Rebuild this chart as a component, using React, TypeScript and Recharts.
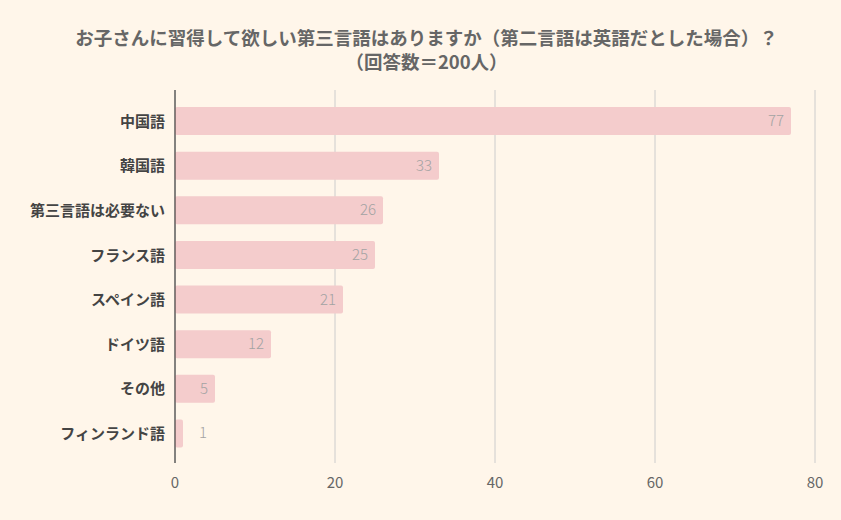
import React from 'react';
import { BarChart, Bar, XAxis, YAxis, CartesianGrid, LabelList } from 'recharts';

const languages = [
  '中国語',
  '韓国語',
  '第三言語は必要ない',
  'フランス語',
  'スペイン語',
  'ドイツ語',
  'その他',
  'フィンランド語',
];
const answers = [77, 33, 26, 25, 21, 12, 5, 1];
const xTicks = [0, 20, 40, 60, 80];
const titleLines = [
  'お子さんに習得して欲しい第三言語はありますか（第二言語は英語だとした場合）？',
  '（回答数＝200人）',
];

const data = languages.map((name, i) => ({ name, value: answers[i] }));

const FONT = '"Noto Sans CJK JP", "Noto Sans", sans-serif';

const renderLabel = (props: any) => {
  const { x, y, width, height, value } = props;
  const inside = width > 20;
  const lx = inside ? x + width - 7 : x + width + 20;
  return (
    <text
      x={lx}
      y={y + height / 2}
      dy={5}
      textAnchor={inside ? 'end' : 'middle'}
      fill="#a3a3a3"
      fontSize={15}
      fontWeight={300}
      fontFamily={FONT}
    >
      {value}
    </text>
  );
};

export default function App() {
  return (
    <div
      style={{
        position: 'fixed',
        left: 0,
        top: 0,
        width: 841,
        height: 520,
        background: '#fff6ea',
        fontFamily: FONT,
      }}
    >
      {titleLines.map((line, i) => (
        <div
          key={i}
          style={{
            position: 'absolute',
            top: 26 + i * 24,
            left: 6,
            width: 841,
            height: 22,
            textAlign: 'center',
            color: '#666666',
            fontWeight: 700,
            fontSize: 18.5,
            lineHeight: '22px',
            whiteSpace: 'nowrap',
          }}
        >
          {line}
        </div>
      ))}
      <BarChart
        width={841}
        height={520}
        data={data}
        layout="vertical"
        margin={{ top: 90, right: 26, left: 0, bottom: 27 }}
      >
        <CartesianGrid horizontal={false} stroke="#cccccc" />
        <XAxis
          type="number"
          domain={[0, 80]}
          ticks={xTicks}
          axisLine={false}
          tickLine={false}
          tickMargin={8}
          height={30}
          tick={{ fill: '#666666', fontSize: 15, fontFamily: FONT }}
        />
        <YAxis
          type="category"
          dataKey="name"
          width={175}
          padding={{ top: 9, bottom: 7 }}
          axisLine={{ stroke: '#222222' }}
          tickLine={false}
          tickMargin={4}
          tick={{ fill: '#444444', fontSize: 15, fontWeight: 700, fontFamily: FONT }}
        />
        <Bar dataKey="value" fill="#f4cccc" barSize={28} radius={2} isAnimationActive={false}>
          <LabelList dataKey="value" content={renderLabel} />
        </Bar>
      </BarChart>
    </div>
  );
}
